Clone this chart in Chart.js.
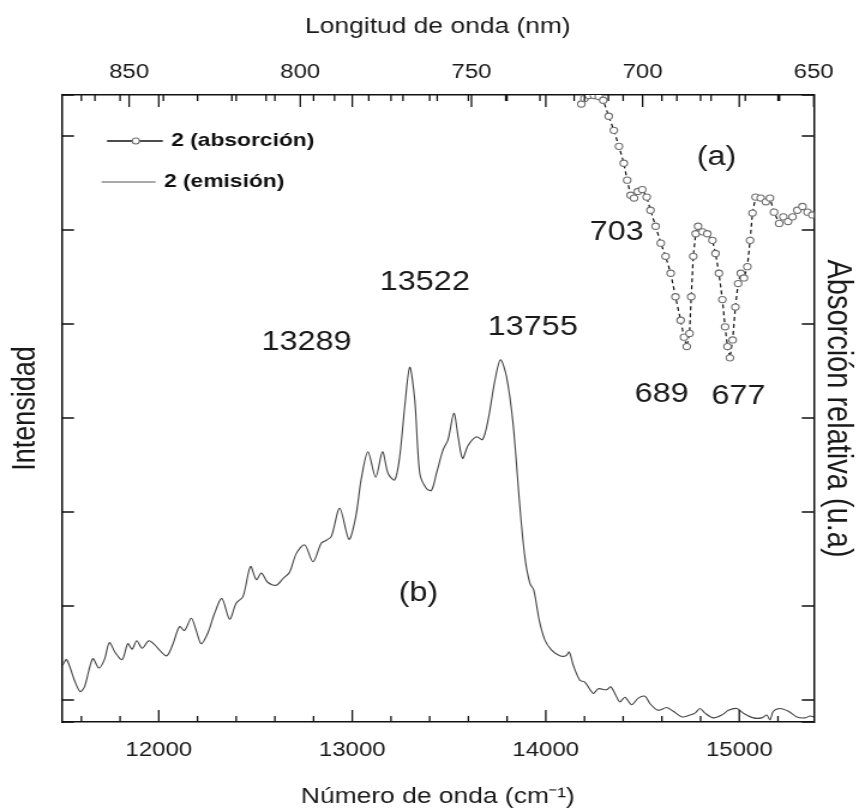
<!DOCTYPE html>
<html>
<head>
<meta charset="utf-8">
<script src="https://cdn.jsdelivr.net/npm/chart.js@4.4.0/dist/chart.umd.min.js"></script>
<style>
  html, body { margin: 0; padding: 0; background: #fff; overflow: hidden; }
  /* the figure is drawn narrower and stretched sideways, like the scanned original */
  #wrap { width: 716px; height: 810px; transform: scaleX(1.1997); transform-origin: 0 0; }
</style>
</head>
<body>
<div id="wrap"><canvas id="chart"></canvas></div>
<script>
// (b) emission: wavenumber (cm-1) / intensity
const emisionX = [11503, 11524, 11564, 11593, 11616, 11659, 11690, 11719, 11745, 11776,
  11811, 11840, 11862, 11886, 11914, 11948, 11978, 12004, 12041, 12072,
  12107, 12133, 12168, 12193, 12219, 12253, 12288, 12326, 12366, 12400,
  12435, 12474, 12504, 12530, 12564, 12607, 12641, 12676, 12711, 12754,
  12797, 12840, 12866, 12892, 12935, 12983, 13018, 13047, 13081, 13121,
  13156, 13185, 13219, 13245, 13271, 13297, 13323, 13349, 13383, 13409,
  13435, 13469, 13495, 13525, 13547, 13570, 13599, 13642, 13673, 13702,
  13737, 13766, 13797, 13831, 13866, 13892, 13918, 13938, 13966, 13995,
  14030, 14073, 14104, 14121, 14142, 14176, 14202, 14245, 14271, 14315,
  14335, 14357, 14383, 14409, 14444, 14478, 14513, 14539, 14581, 14625,
  14659, 14703, 14745, 14771, 14797, 14823, 14866, 14909, 14944, 14987,
  15021, 15073, 15116, 15142, 15159, 15176, 15211, 15254, 15298, 15340,
  15366, 15383];
const emisionY = [0.37, 0.43, 0.21, 0.09, 0.14, 0.44, 0.34, 0.43, 0.61, 0.50,
  0.43, 0.60, 0.54, 0.63, 0.55, 0.63, 0.59, 0.53, 0.47, 0.59,
  0.78, 0.74, 0.87, 0.74, 0.60, 0.71, 0.92, 1.08, 0.86, 1.03,
  1.10, 1.42, 1.28, 1.35, 1.25, 1.22, 1.29, 1.36, 1.56, 1.65,
  1.47, 1.67, 1.70, 1.74, 2.04, 1.71, 1.95, 2.36, 2.64, 2.37,
  2.64, 2.41, 2.34, 2.59, 3.12, 3.54, 3.19, 2.41, 2.25, 2.23,
  2.41, 2.66, 2.77, 3.05, 2.80, 2.57, 2.71, 2.80, 2.77, 2.98,
  3.40, 3.62, 3.44, 2.94, 2.06, 1.52, 1.24, 1.17, 0.85, 0.64,
  0.53, 0.47, 0.47, 0.51, 0.37, 0.21, 0.19, 0.07, 0.12, 0.11,
  0.14, 0.07, -0.02, 0.03, -0.05, 0.02, 0.04, -0.04, -0.11, -0.08,
  -0.12, -0.18, -0.16, -0.14, -0.09, -0.14, -0.19, -0.16, -0.11, -0.09,
  -0.14, -0.19, -0.19, -0.16, -0.21, -0.12, -0.09, -0.12, -0.18, -0.19,
  -0.17, -0.18];

// (a) absorption: wavelength (nm) / relative absorption
const absorcionX = [717.9, 717.0, 715.7, 714.2, 712.8, 711.5, 709.9, 708.4, 706.9, 705.5,
  704.5, 703.5, 702.5, 701.4, 700.1, 698.8, 697.7, 696.2, 694.7, 693.3,
  691.8, 690.4, 688.9, 687.9, 687.1, 686.3, 685.8, 685.2, 684.5, 683.8,
  682.5, 681.1, 679.6, 678.7, 677.7, 676.7, 675.9, 675.2, 674.5, 673.7,
  672.9, 672.1, 671.3, 670.4, 669.4, 668.6, 667.9, 667.0, 665.5, 664.0,
  662.8, 661.6, 660.1, 658.9, 657.5, 656.2, 654.8, 653.3, 651.8, 650.4];
const absorcionY = [6.34, 6.40, 6.43, 6.43, 6.42, 6.38, 6.21, 6.06, 5.89, 5.71,
  5.53, 5.37, 5.34, 5.41, 5.43, 5.35, 5.21, 5.04, 4.86, 4.72,
  4.54, 4.29, 4.04, 3.86, 3.76, 3.90, 4.29, 4.72, 4.96, 5.04,
  4.98, 4.96, 4.89, 4.75, 4.54, 4.26, 3.97, 3.76, 3.64, 3.83,
  4.18, 4.43, 4.54, 4.49, 4.61, 4.89, 5.18, 5.35, 5.34, 5.30,
  5.34, 5.19, 5.07, 5.14, 5.09, 5.14, 5.21, 5.25, 5.19, 5.16];

// axis ranges
const waveNumMin = 11500, waveNumMax = 15385;
const waveLenMin = 650, waveLenMax = 869.6;

// peak and band labels, placed in data units of their own axis
const notes = [
  { text: '13289', axis: 'x', x: 12764, y: 3.72 },
  { text: '13522', axis: 'x', x: 13375, y: 4.36 },
  { text: '13755', axis: 'x', x: 13933, y: 3.88 },
  { text: '(b)', axis: 'x', x: 13342, y: 1.05 },
  { text: '703', axis: 'x2', x: 707.6, y: 4.89 },
  { text: '689', axis: 'x2', x: 694.4, y: 3.17 },
  { text: '677', axis: 'x2', x: 672.0, y: 3.15 },
  { text: '(a)', axis: 'x2', x: 678.4, y: 5.69 }
];

const FONT = "'Liberation Sans', Arial, Helvetica, sans-serif";
Chart.defaults.font.family = FONT;
Chart.defaults.color = '#1a1a1a';

const toPoints = (xs, ys) => xs.map((v, i) => ({ x: v, y: ys[i] }));

// inward ticks, legend and text labels
const extras = {
  id: 'extras',
  afterDraw(chart) {
    const { ctx, chartArea: a, scales } = chart;
    const { x, x2, y } = scales;
    ctx.save();
    ctx.strokeStyle = '#111';
    ctx.lineWidth = 1.3;
    ctx.beginPath();
    x.ticks.forEach(t => {
      const px = x.getPixelForValue(t.value);
      const len = t.value % 1000 === 0 ? 12 : 6;
      ctx.moveTo(px, a.bottom); ctx.lineTo(px, a.bottom - len);
      ctx.moveTo(px, a.top); ctx.lineTo(px, a.top + len);
    });
    x2.ticks.forEach(t => {
      const px = x2.getPixelForValue(t.value);
      const len = t.value % 50 === 0 ? 12 : 6;
      ctx.moveTo(px, a.top); ctx.lineTo(px, a.top + len);
    });
    y.ticks.forEach(t => {
      const py = y.getPixelForValue(t.value);
      ctx.moveTo(a.left, py); ctx.lineTo(a.left + 10, py);
      ctx.moveTo(a.right, py); ctx.lineTo(a.right - 10, py);
    });
    ctx.stroke();

    // legend
    const ly1 = 141, ly2 = 182;
    ctx.beginPath();
    ctx.strokeStyle = '#111';
    ctx.lineWidth = 1.4;
    ctx.moveTo(a.left + 37.5, ly1); ctx.lineTo(a.left + 84, ly1);
    ctx.stroke();
    ctx.beginPath();
    ctx.arc(a.left + 61.5, ly1, 3, 0, Math.PI * 2);
    ctx.fillStyle = '#fff';
    ctx.fill();
    ctx.strokeStyle = '#707070';
    ctx.lineWidth = 1.1;
    ctx.stroke();
    ctx.beginPath();
    ctx.strokeStyle = '#555';
    ctx.lineWidth = 1;
    ctx.moveTo(a.left + 33, ly2); ctx.lineTo(a.left + 78, ly2);
    ctx.stroke();
    ctx.fillStyle = '#111';
    ctx.font = `bold 19px ${FONT}`;
    ctx.textAlign = 'left';
    ctx.textBaseline = 'middle';
    ctx.fillText('2 (absorción)', a.left + 91, ly1);
    ctx.fillText('2 (emisión)', a.left + 85, ly2);

    // peak labels
    ctx.font = `27px ${FONT}`;
    ctx.fillStyle = '#1a1a1a';
    ctx.textAlign = 'center';
    ctx.textBaseline = 'alphabetic';
    notes.forEach(n => {
      const sx = scales[n.axis];
      ctx.fillText(n.text, sx.getPixelForValue(n.x), y.getPixelForValue(n.y));
    });
    ctx.restore();
  }
};

const frame = { display: true, color: '#111', width: 1.5 };
const noGrid = { display: true, drawOnChartArea: false, drawTicks: false };

new Chart(document.getElementById('chart'), {
  type: 'line',
  data: {
    datasets: [
      {
        label: '2 (absorción)',
        data: toPoints(absorcionX, absorcionY),
        xAxisID: 'x2',
        yAxisID: 'y2',
        borderColor: '#111',
        borderWidth: 1.2,
        borderDash: [4, 3],
        pointRadius: 3.1,
        pointBorderColor: '#707070',
        pointBackgroundColor: '#fff',
        pointBorderWidth: 1.1,
        tension: 0
      },
      {
        label: '2 (emisión)',
        data: toPoints(emisionX, emisionY),
        xAxisID: 'x',
        yAxisID: 'y',
        borderColor: '#444',
        borderWidth: 1.1,
        pointRadius: 0,
        tension: 0.3
      }
    ]
  },
  options: {
    responsive: true,
    maintainAspectRatio: false,
    animation: false,
    layout: { padding: 0 },
    plugins: { legend: { display: false }, tooltip: { enabled: false } },
    scales: {
      x: {
        type: 'linear', position: 'bottom', min: waveNumMin, max: waveNumMax,
        grid: noGrid, border: frame,
        ticks: {
          stepSize: 200, includeBounds: false, autoSkip: false, maxRotation: 0,
          padding: 16, font: { size: 20 },
          callback: v => (v % 1000 === 0 ? v : '')
        },
        title: { display: true, text: 'Número de onda (cm⁻¹)', font: { size: 22 }, padding: { top: 0, bottom: 0 } },
        afterFit: s => { s.height = 88; }
      },
      x2: {
        type: 'linear', position: 'top', reverse: true, min: waveLenMin, max: waveLenMax,
        grid: noGrid, border: frame,
        ticks: {
          stepSize: 10, includeBounds: false, autoSkip: false, maxRotation: 0,
          padding: 11, font: { size: 20 },
          callback: v => (v % 50 === 0 ? v : '')
        },
        title: { display: true, text: 'Longitud de onda (nm)', font: { size: 22 }, padding: { top: 14, bottom: 0 } },
        afterFit: s => { s.height = 95; }
      },
      y: {
        type: 'linear', position: 'left', min: -0.234, max: 6.436,
        grid: noGrid, border: frame,
        ticks: { display: false, stepSize: 1 },
        title: { display: true, text: 'Intensidad', font: { size: 27 }, padding: { top: 5, bottom: 0 } },
        afterFit: s => { s.width = 51.7; }
      },
      y2: {
        type: 'linear', position: 'right', min: -0.234, max: 6.436,
        grid: noGrid, border: frame,
        ticks: { display: false, stepSize: 1 },
        title: { display: true, text: 'Absorción relativa (u.a)', font: { size: 29 }, padding: { top: 1, bottom: 0 } },
        afterFit: s => { s.width = 37.7; }
      }
    }
  },
  plugins: [extras]
});
</script>
</body>
</html>
